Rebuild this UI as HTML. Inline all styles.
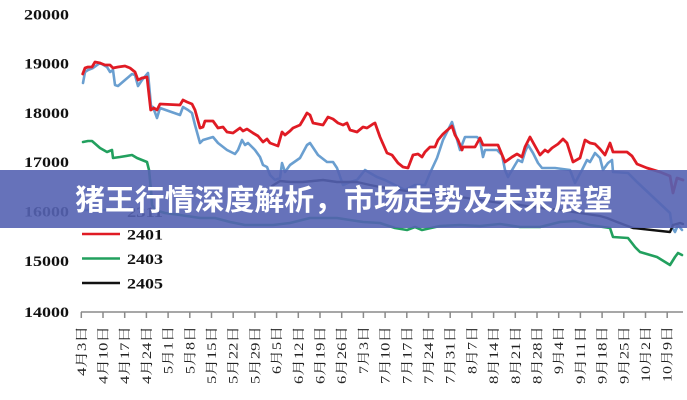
<!DOCTYPE html>
<html>
<head>
<meta charset="utf-8">
<style>
html,body{margin:0;padding:0;background:#fff;}
svg{display:block;}
</style>
</head>
<body>
<svg width="687" height="400" viewBox="0 0 687 400" xmlns="http://www.w3.org/2000/svg">
<rect width="687" height="400" fill="#fff"/>

<!-- Y labels -->
<g font-family="'Liberation Serif', serif" font-weight="bold" font-size="15" fill="#111" text-anchor="end">
<text x="69" y="19.5" textLength="45" lengthAdjust="spacingAndGlyphs">20000</text>
<text x="69" y="68.5" textLength="45" lengthAdjust="spacingAndGlyphs">19000</text>
<text x="69" y="118" textLength="45" lengthAdjust="spacingAndGlyphs">18000</text>
<text x="69" y="167" textLength="45" lengthAdjust="spacingAndGlyphs">17000</text>
<text x="69" y="216.5" textLength="45" lengthAdjust="spacingAndGlyphs">16000</text>
<text x="69" y="266" textLength="45" lengthAdjust="spacingAndGlyphs">15000</text>
<text x="69" y="317" textLength="45" lengthAdjust="spacingAndGlyphs">14000</text>
</g>

<!-- Axis -->
<g stroke="#8a8a8a" stroke-width="1.5" fill="none">
<line x1="81" y1="312" x2="683" y2="312"/>
<path d="M81.3 312v6 M103 312v6 M124.7 312v6 M146.4 312v6 M168.1 312v6 M189.8 312v6 M211.5 312v6 M233.2 312v6 M254.9 312v6 M276.6 312v6 M298.3 312v6 M320 312v6 M341.7 312v6 M363.4 312v6 M385.1 312v6 M406.8 312v6 M428.5 312v6 M450.2 312v6 M471.9 312v6 M493.6 312v6 M515.3 312v6 M537 312v6 M558.7 312v6 M580.4 312v6 M602.1 312v6 M623.8 312v6 M645.5 312v6 M667.2 312v6"/>
</g>

<!-- X labels -->
<g font-family="'Liberation Serif', 'Noto Serif CJK SC', serif" font-size="13" fill="#222" text-anchor="end" dominant-baseline="central">
<text transform="translate(81.3,326) rotate(-90)" textLength="50" lengthAdjust="spacingAndGlyphs">4月3日</text>
<text transform="translate(103,326) rotate(-90)" textLength="58" lengthAdjust="spacingAndGlyphs">4月10日</text>
<text transform="translate(124.7,326) rotate(-90)" textLength="58" lengthAdjust="spacingAndGlyphs">4月17日</text>
<text transform="translate(146.4,326) rotate(-90)" textLength="58" lengthAdjust="spacingAndGlyphs">4月24日</text>
<text transform="translate(168.1,326) rotate(-90)" textLength="48" lengthAdjust="spacingAndGlyphs">5月1日</text>
<text transform="translate(189.8,326) rotate(-90)" textLength="48" lengthAdjust="spacingAndGlyphs">5月8日</text>
<text transform="translate(211.5,326) rotate(-90)" textLength="58" lengthAdjust="spacingAndGlyphs">5月15日</text>
<text transform="translate(233.2,326) rotate(-90)" textLength="58" lengthAdjust="spacingAndGlyphs">5月22日</text>
<text transform="translate(254.9,326) rotate(-90)" textLength="58" lengthAdjust="spacingAndGlyphs">5月29日</text>
<text transform="translate(276.6,326) rotate(-90)" textLength="48" lengthAdjust="spacingAndGlyphs">6月5日</text>
<text transform="translate(298.3,326) rotate(-90)" textLength="58" lengthAdjust="spacingAndGlyphs">6月12日</text>
<text transform="translate(320,326) rotate(-90)" textLength="58" lengthAdjust="spacingAndGlyphs">6月19日</text>
<text transform="translate(341.7,326) rotate(-90)" textLength="58" lengthAdjust="spacingAndGlyphs">6月26日</text>
<text transform="translate(363.4,326) rotate(-90)" textLength="48" lengthAdjust="spacingAndGlyphs">7月3日</text>
<text transform="translate(385.1,326) rotate(-90)" textLength="58" lengthAdjust="spacingAndGlyphs">7月10日</text>
<text transform="translate(406.8,326) rotate(-90)" textLength="58" lengthAdjust="spacingAndGlyphs">7月17日</text>
<text transform="translate(428.5,326) rotate(-90)" textLength="58" lengthAdjust="spacingAndGlyphs">7月24日</text>
<text transform="translate(450.2,326) rotate(-90)" textLength="58" lengthAdjust="spacingAndGlyphs">7月31日</text>
<text transform="translate(471.9,326) rotate(-90)" textLength="48" lengthAdjust="spacingAndGlyphs">8月7日</text>
<text transform="translate(493.6,326) rotate(-90)" textLength="58" lengthAdjust="spacingAndGlyphs">8月14日</text>
<text transform="translate(515.3,326) rotate(-90)" textLength="58" lengthAdjust="spacingAndGlyphs">8月21日</text>
<text transform="translate(537,326) rotate(-90)" textLength="58" lengthAdjust="spacingAndGlyphs">8月28日</text>
<text transform="translate(558.7,326) rotate(-90)" textLength="48" lengthAdjust="spacingAndGlyphs">9月4日</text>
<text transform="translate(580.4,326) rotate(-90)" textLength="58" lengthAdjust="spacingAndGlyphs">9月11日</text>
<text transform="translate(602.1,326) rotate(-90)" textLength="58" lengthAdjust="spacingAndGlyphs">9月18日</text>
<text transform="translate(623.8,326) rotate(-90)" textLength="58" lengthAdjust="spacingAndGlyphs">9月25日</text>
<text transform="translate(645.5,326) rotate(-90)" textLength="56" lengthAdjust="spacingAndGlyphs">10月2日</text>
<text transform="translate(667.2,326) rotate(-90)" textLength="56" lengthAdjust="spacingAndGlyphs">10月9日</text>
</g>

<!-- Series -->
<g fill="none" stroke-linejoin="round" stroke-linecap="round">
<polyline stroke="#6a9fd0" stroke-width="2.6" points="83,83 85,72 88,70 93,68 100,63 107,67 110,72 113,70 115,85 118,86 125,80 132,74 135,75 138,86 142,80 148,73 151,106 153,107 157,118 160,108 180,115 183,107 188,110 192,113 195,125 200,143 203,140 213,137 218,143 227,150 235,154 238,150 242,140 245,145 248,143 255,150 260,157 263,165 267,167 270,175 275,180 280,178 282,163 285,172 290,165 300,158 307,145 310,143 318,155 327,162 333,162 337,168 343,185 350,182 357,180 365,170 370,173 377,177 385,180 395,185 405,190 415,185 425,185 430,173 437,158 443,140 452,122 458,143 460,150 465,137 477,137 480,140 483,157 485,150 497,150 502,155 505,170 508,177 515,165 518,160 522,162 525,152 528,145 533,153 538,163 542,168 555,168 570,170 575,183 582,170 587,160 590,162 595,153 600,158 603,170 608,163 612,160 613,172 628,173 637,182 670,213 672,227 675,232 678,225 682,230"/>
<polyline stroke="#22a05e" stroke-width="2.6" points="83,142 88,141 92,141 100,148 107,152 112,150 113,158 120,157 132,155 137,158 142,160 147,162 149,170 151,190 152,205 155,210 165,213 180,215 200,218 215,218 230,222 245,225 257,225 273,225 290,223 310,218 337,218 363,222 380,223 395,228 407,230 415,227 422,230 440,226 460,225 480,226 500,224 520,227 540,227 560,222 575,221 590,225 603,227 610,228 613,237 628,238 635,247 640,252 657,257 670,265 675,257 678,253 682,255"/>
<polyline stroke="#111" stroke-width="2.4" points="272,186 280,181 290,182 303,182 323,180 337,182 357,182 370,185 380,187 400,190 420,193 440,195 460,197 480,200 500,203 520,205 540,208 560,210 580,213 600,216 607,218 617,222 633,228 670,232 673,225 680,223 683,224"/>
<polyline stroke="#e01b24" stroke-width="2.8" points="82.7,74 85,68 88,67 92,67 95,62 100,63 105,65 110,65 113,68 118,67 125,66 130,68 135,72 138,80 142,78 147,77 150.7,110 154,108 157,110 160,104 180,105 183,100 187,102 192,104 195,110 200,128 203,127 205,121 213,121 218,128 223,127 227,132 233,133 240,128 243,131 247,129 253,133 258,136 263,142 267,139 270,143 278,146 282,132 285,135 290,131 293,128 300,125 303,120 307,113 310,115 313,123 318,124 323,125 328,117 333,119 338,123 343,125 347,123 350,130 357,132 363,127 367,128 373,124 375,123 380,137 387,153 392,155 398,163 403,167 408,168 413,155 418,154 422,157 425,152 430,147 435,147 438,140 443,134 452,126 455,135 458,140 462,150 463,147 475,147 480,138 483,145 498,145 505,162 512,157 517,154 522,157 525,147 530,137 540,155 545,150 548,152 552,148 558,144 563,139 567,143 573,162 580,158 585,140 590,143 595,144 600,149 605,155 610,143 613,152 627,152 632,156 637,164 647,168 660,172 670,176 673,193 677,178 683,180"/>
</g>

<!-- Legend -->
<g stroke-width="2.6">
<line x1="82" y1="210" x2="120" y2="210" stroke="#6a9fd0"/>
<line x1="82" y1="234" x2="120" y2="234" stroke="#e01b24"/>
<line x1="82" y1="258.5" x2="120" y2="258.5" stroke="#22a05e"/>
<line x1="82" y1="283" x2="120" y2="283" stroke="#111"/>
</g>
<g font-family="'Liberation Serif', serif" font-weight="bold" font-size="15" fill="#111">
<text x="127" y="217" textLength="36" lengthAdjust="spacingAndGlyphs">2311</text>
<text x="127" y="239.5" textLength="36" lengthAdjust="spacingAndGlyphs">2401</text>
<text x="127" y="264" textLength="36" lengthAdjust="spacingAndGlyphs">2403</text>
<text x="127" y="288.5" textLength="36" lengthAdjust="spacingAndGlyphs">2405</text>
</g>

<!-- Banner -->
<rect x="0" y="170" width="687" height="58" fill="#5563b2" fill-opacity="0.9"/>
<text x="344" y="210" text-anchor="middle" font-family="'Liberation Sans', 'Noto Sans CJK SC', sans-serif" font-weight="bold" font-size="29" fill="#fff" textLength="538" lengthAdjust="spacingAndGlyphs">猪王行情深度解析，市场走势及未来展望</text>
</svg>
</body>
</html>
